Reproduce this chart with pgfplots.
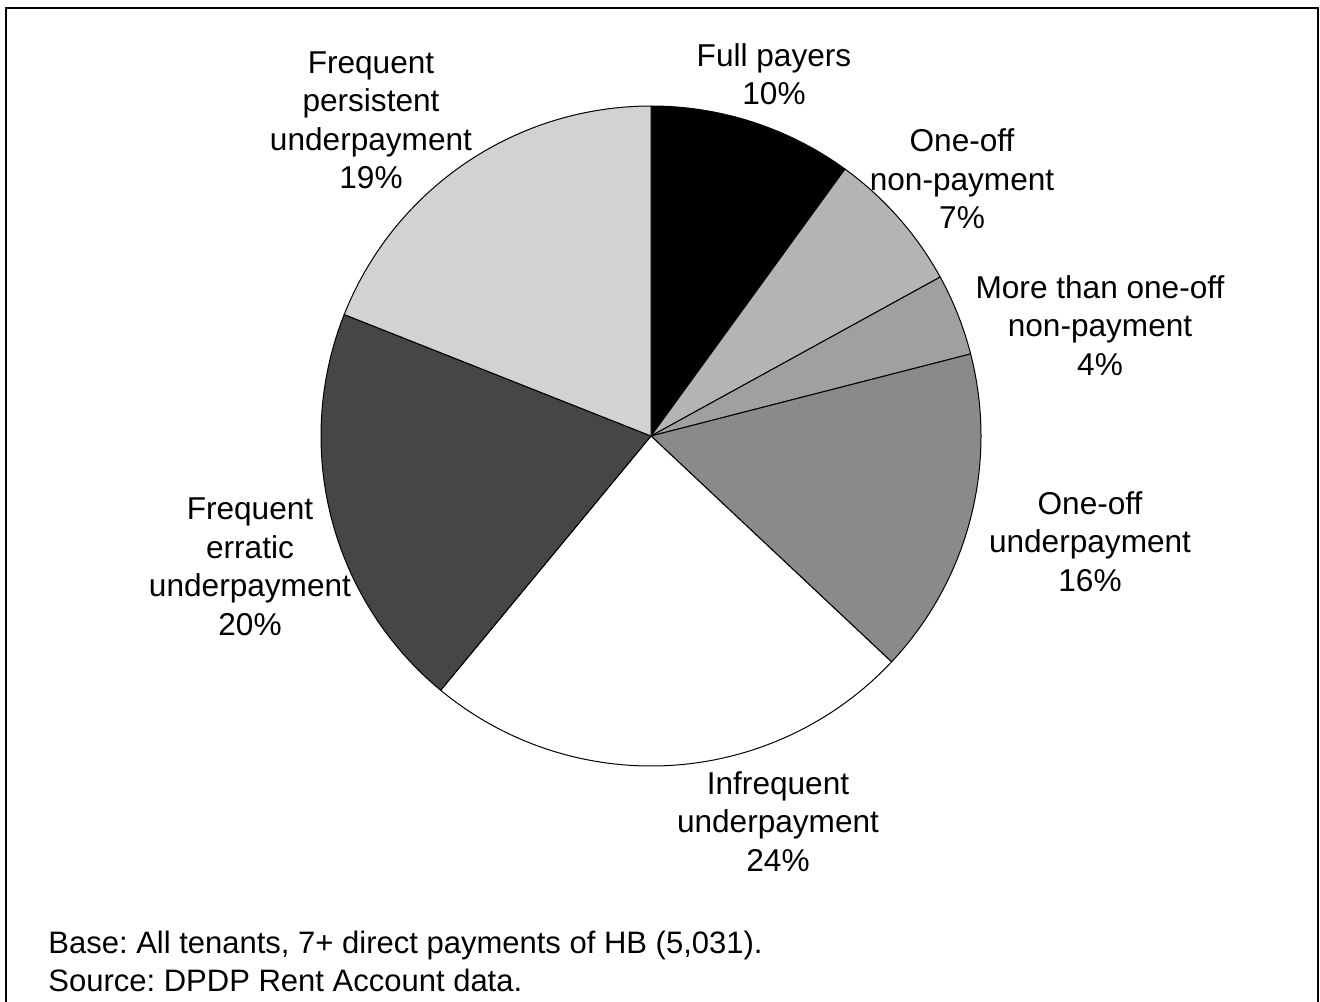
\documentclass[border=0pt]{standalone}
\usepackage{pgfplots}
\pgfplotsset{compat=1.18}
\usepackage{pgfplotstable}
\usepackage{fontspec}
\setmainfont{Liberation Sans}
\definecolor{cA}{HTML}{000000}
\definecolor{cB}{HTML}{B3B4B6}
\definecolor{cC}{HTML}{A0A0A2}
\definecolor{cD}{HTML}{8A8A8C}
\definecolor{cE}{HTML}{FFFFFF}
\definecolor{cF}{HTML}{464648}
\definecolor{cG}{HTML}{D1D2D4}
\pgfplotstableread{
value col
10 cA
7 cB
4 cC
16 cD
24 cE
20 cF
19 cG
}\piedata
\begin{document}
\frenchspacing
\begin{tikzpicture}
\useasboundingbox (0,0) rectangle (660pt,-500.5pt);
\begin{axis}[hide axis, x=165pt, y=165pt, xmin=-1.1, xmax=1.1, ymin=-1.1, ymax=1.1,
  clip=false, at={(325.5pt,-218pt)}, anchor=center]
\xdef\cum{0}
\pgfplotsinvokeforeach{0,...,6}{%
  \pgfplotstablegetelem{#1}{value}\of{\piedata}\let\val\pgfplotsretval
  \pgfplotstablegetelem{#1}{col}\of{\piedata}\let\col\pgfplotsretval
  \pgfmathsetmacro\aEnd{90-3.6*\cum}%
  \pgfmathsetmacro\aStart{90-3.6*(\cum+\val)}%
  \pgfmathsetmacro\newcum{\cum+\val}\xdef\cum{\newcum}%
  \edef\doplot{\noexpand\addplot[draw=black, line width=0.5pt, fill=\col, mark=none, line join=round, domain=\aStart:\aEnd, samples=90] ({cos(x)},{sin(x)}) -- (axis cs:0,0) -- cycle;}%
  \doplot
}
\end{axis}
\begin{scope}[x=0.5pt,y=-0.5pt, every node/.style={font=\fontsize{15.8}{19.25}\selectfont, align=center, inner sep=0pt}]
\draw[line width=1.25pt] (6,1100) -- (6,8) -- (1318,8) -- (1318,1100);
\node at (774,74) {Full payers\\10\%};
\node at (962,179) {One-off\\non-payment\\7\%};
\node at (1100,325.5) {More than one-off\\non-payment\\4\%};
\node at (1090,541.5) {One-off\\underpayment\\16\%};
\node at (778,821.5) {Infrequent\\underpayment\\24\%};
\node at (250,567) {Frequent\\erratic\\underpayment\\20\%};
\node at (371,120.5) {Frequent\\persistent\\underpayment\\19\%};
\node[anchor=west, align=left, font=\fontsize{15.5}{18.6}\selectfont] at (48,961.5) {Base: All tenants, 7+ direct payments of HB (5,031).\\Source: DPDP Rent Account data.};
\end{scope}
\end{tikzpicture}
\end{document}
